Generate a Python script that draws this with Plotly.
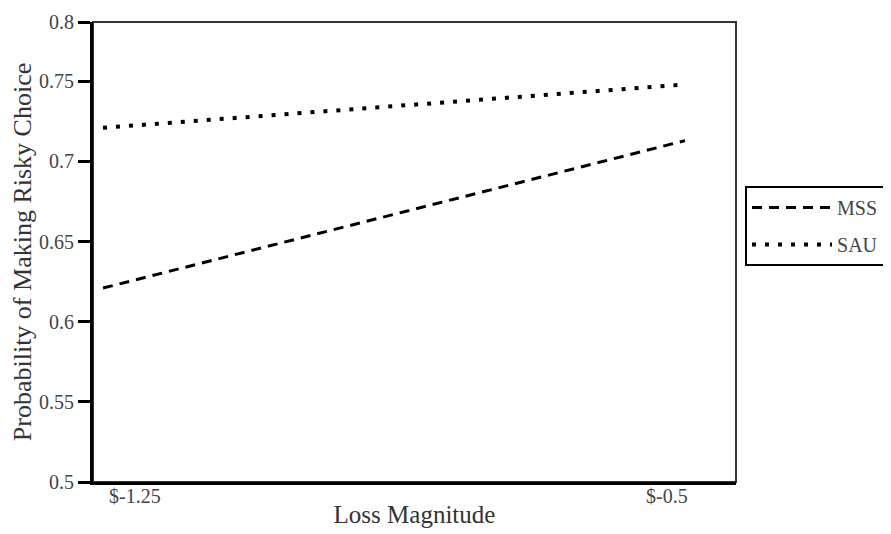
import plotly.graph_objects as go

categories = ["$-1.25", "$-0.5"]
mss = [0.621, 0.713]
sau = [0.721, 0.748]
series_names = ["MSS", "SAU"]
y_tick_vals = [0.5, 0.55, 0.6, 0.65, 0.7, 0.75, 0.787]
y_tick_text = ["0.5", "0.55", "0.6", "0.65", "0.7", "0.75", "0.8"]

x_idx = list(range(len(categories)))
font_family = "Liberation Serif, Times New Roman, serif"

fig = go.Figure()
fig.add_trace(go.Scatter(x=x_idx, y=mss, mode="lines", name=series_names[0], legendgroup="a",
                         line=dict(color="black", width=3, dash="10px,7px")))
fig.add_trace(go.Scatter(x=x_idx, y=sau, mode="lines", name=series_names[1], legendgroup="b",
                         line=dict(color="black", width=4, dash="4px,9px")))

# x tick labels as annotations (left label sits right of its point, right label left of its point)
anchors = ["left", "right"]
shifts = [4, 5]
annotations = []
for i, lab in enumerate(categories):
    annotations.append(dict(x=x_idx[i], y=0, xref="x", yref="paper", text=lab,
                            showarrow=False, xanchor=anchors[i], yanchor="top",
                            xshift=shifts[i], yshift=-1,
                            font=dict(family=font_family, size=20, color="#444")))

fig.update_layout(
    width=891, height=534,
    margin=dict(l=85, r=163, t=14, b=60),
    paper_bgcolor="white", plot_bgcolor="white",
    font=dict(family=font_family, size=20, color="#444"),
    showlegend=True,
    legend=dict(x=1.014, y=0.6435, xanchor="left", yanchor="top",
                bordercolor="black", borderwidth=2, bgcolor="white",
                itemwidth=80, tracegroupgap=8,
                font=dict(family=font_family, size=20, color="#444")),
    xaxis=dict(
        tickmode="array", tickvals=x_idx, ticktext=categories, showticklabels=False,
        range=[-0.0172, 1.0876], showgrid=False, zeroline=False, automargin=False,
        showline=True, linecolor="black", linewidth=3,
        ticks="",
        title=dict(text="Loss Magnitude", font=dict(size=25, color="#333"), standoff=22),
    ),
    yaxis=dict(
        tickmode="array", tickvals=y_tick_vals, ticktext=y_tick_text,
        range=[0.5, 0.787], showgrid=False, zeroline=False, automargin=False,
        showline=True, linecolor="black", linewidth=3,
        ticks="outside", ticklen=12, tickwidth=2.5, tickcolor="black",
        tickfont=dict(size=20, color="#444"),
        title=dict(text="Probability of Making Risky Choice", font=dict(size=26, color="#333"), standoff=6),
    ),
    annotations=annotations,
    shapes=[dict(type="rect", xref="paper", yref="paper", x0=0, x1=1, y0=0, y1=1,
                 line=dict(color="#333", width=2), layer="below")],
)

fig.write_html("out.html")
